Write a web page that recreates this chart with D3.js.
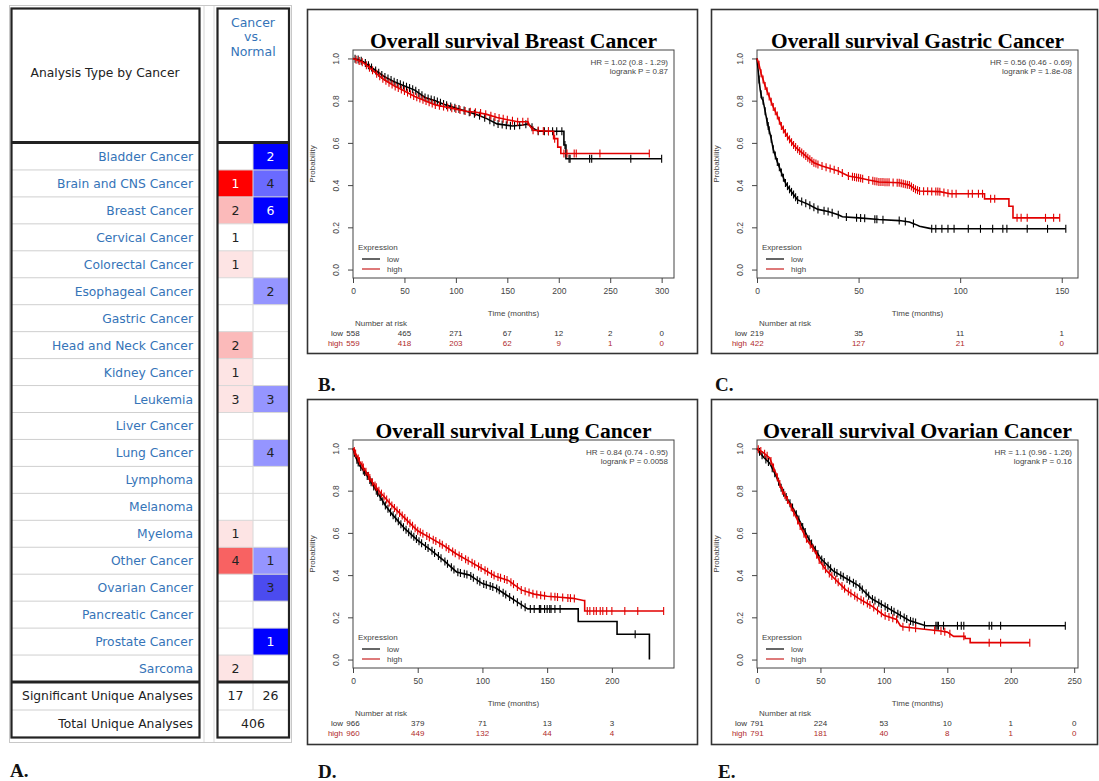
<!DOCTYPE html>
<html><head><meta charset="utf-8">
<script src="https://cdn.jsdelivr.net/npm/d3@7"></script>
<style>body{margin:0;background:#fff}svg{display:block}</style>
</head><body>
<svg id="fig" width="1099" height="781"></svg>
<script>
// ---------------- Panel A data (Oncomine) ----------------
const cancers = ["Bladder Cancer","Brain and CNS Cancer","Breast Cancer","Cervical Cancer","Colorectal Cancer","Esophageal Cancer","Gastric Cancer","Head and Neck Cancer","Kidney Cancer","Leukemia","Liver Cancer","Lung Cancer","Lymphoma","Melanoma","Myeloma","Other Cancer","Ovarian Cancer","Pancreatic Cancer","Prostate Cancer","Sarcoma"];
const overCounts  = [null,1,2,1,1,null,null,2,1,3,null,null,null,null,1,4,null,null,null,2];
const underCounts = [2,4,6,null,null,2,null,null,null,3,null,4,null,null,null,1,3,null,1,null];
const overRank  = [null,1,5,25,10,null,null,5,10,10,null,null,null,null,10,3,null,null,null,10];
const underRank = [1,3,1,null,null,5,null,null,null,5,null,5,null,null,null,5,2,null,1,null];
const significantUnique = [17, 26];
const totalUnique = 406;

// ---------------- KM curves (time in months, survival probability) ----------------
const breastLow = [[0,1],[5,0.995],[10,0.985],[20,0.95],[30,0.915],[40,0.89],[50,0.87],[60,0.85],[70,0.815],[80,0.80],[90,0.78],[100,0.765],[110,0.75],[120,0.735],[130,0.715],[140,0.69],[155,0.68],[165,0.685],[170,0.69],[175,0.67],[180,0.655],[205,0.655],[205,0.59],[207,0.59],[207,0.525],[300,0.525]];
const breastHigh = [[0,1],[5,0.99],[10,0.98],[20,0.94],[30,0.90],[40,0.87],[50,0.846],[60,0.82],[70,0.80],[80,0.78],[90,0.77],[100,0.76],[110,0.75],[120,0.745],[130,0.735],[140,0.72],[150,0.71],[160,0.70],[170,0.70],[172,0.68],[175,0.66],[190,0.655],[195,0.655],[195,0.62],[199,0.62],[199,0.58],[202,0.58],[202,0.55],[288,0.55]];
const breastLowCens = [2,5,8,12,15,18,22,25,28,31,34,37,40,43,46,49,52,55,58,61,64,67,70,73,76,79,82,85,88,91,95,99,103,108,113,118,123,128,133,137,141,145,149,153,157,162,168,174,180,186,190,194,198,203,206,210,211,230,232,270,300];
const breastHighCens = [3,6,9,13,16,19,23,26,29,32,35,38,41,44,47,50,53,56,59,62,65,68,71,74,77,80,84,88,92,96,100,104,109,114,119,124,129,134,138,142,146,150,155,160,165,170,175,180,185,190,196,205,208,215,217,240,288];

const gastricLow = [[0,1],[0.5,0.95],[1,0.9],[1.6,0.85],[2.4,0.81],[3,0.80],[4,0.75],[5,0.70],[6,0.66],[7,0.62],[8,0.57],[10,0.51],[12,0.46],[14,0.41],[16,0.38],[18,0.356],[20,0.33],[25,0.31],[30,0.285],[35,0.275],[40,0.26],[42,0.25],[50,0.245],[60,0.237],[70,0.232],[75,0.225],[78,0.214],[80,0.205],[85,0.195],[86,0.193],[152,0.193]];
const gastricHigh = [[0,1],[1,0.97],[2,0.93],[4,0.87],[6,0.82],[8,0.77],[10,0.73],[12,0.68],[15,0.63],[18,0.59],[20,0.57],[25,0.53],[28,0.506],[32,0.49],[40,0.467],[45,0.443],[50,0.435],[55,0.424],[60,0.415],[70,0.411],[75,0.40],[78,0.38],[80,0.372],[90,0.369],[95,0.359],[112,0.359],[112,0.335],[124,0.335],[124,0.30],[126,0.30],[126,0.245],[149,0.245]];
const gastricLowCens = [1,2,3,4,5,5.5,6,7,8,9,10,11,12,13,14,15,16,17,18,19,20,22,24,26,28,30,33,35,37,40,44,49,51,53,58,59,62,70,73,77,86,88,91,94,97,104,110,116,121,123,133,143,152];
const gastricHighCens = [1,2,3,4,5,6,7,8,9,10,11,12,13,14,15,16,17,18,19,20,21,22,23,24,25,26,27,28,29,30,32,34,36,38,40,42,45,47,48,49,50,51,52,55,57,58,59,60,61,62,63,64,65,67,69,70,71,72,73,74,75,76,77,78,79,80,82,84,86,88,89,90,92,94,96,98,104,106,109,111,115,117,128,130,133,142,146,149];

const lungLow = [[0,1],[2,0.96],[5,0.92],[10,0.88],[15,0.83],[20,0.78],[25,0.73],[30,0.69],[40,0.62],[50,0.565],[60,0.52],[70,0.47],[80,0.415],[90,0.40],[95,0.38],[100,0.36],[110,0.34],[120,0.30],[130,0.26],[135,0.24],[174,0.24],[174,0.18],[204,0.18],[204,0.12],[229,0.12],[229,0]];
const lungHigh = [[0,1],[5,0.94],[10,0.89],[15,0.84],[20,0.80],[30,0.73],[40,0.67],[50,0.61],[60,0.575],[70,0.54],[80,0.50],[90,0.465],[100,0.43],[110,0.395],[120,0.375],[130,0.33],[140,0.31],[150,0.30],[160,0.295],[170,0.29],[178,0.28],[179,0.28],[179,0.23],[240,0.23]];
const lungLowCens = [1,3,4,6,8,9,11,13,14,16,18,19,21,23,25,27,29,31,33,35,37,39,41,43,45,47,49,51,53,56,58,61,63,66,68,71,73,76,78,81,83,86,88,91,93,96,98,101,103,106,108,111,113,116,118,121,124,127,130,133,137,140,144,145,148,150,152,153,156,160,218];
const lungHighCens = [1,2,4,5,7,8,10,12,13,15,17,18,20,22,24,26,28,30,32,34,36,38,40,42,44,46,48,50,52,54,57,59,62,64,67,69,72,74,77,79,82,84,87,89,92,94,97,99,102,104,107,109,112,114,117,119,122,124,127,130,133,136,139,142,145,148,153,156,158,162,166,168,171,181,183,186,188,191,193,196,200,210,220,240];

const ovarianLow = [[0,1],[5,0.96],[10,0.93],[15,0.87],[20,0.80],[25,0.75],[30,0.70],[35,0.64],[40,0.58],[45,0.53],[50,0.48],[55,0.45],[60,0.42],[70,0.385],[80,0.35],[90,0.29],[100,0.255],[110,0.22],[120,0.185],[125,0.175],[133,0.16],[243,0.16]];
const ovarianHigh = [[0,1],[5,0.98],[10,0.955],[15,0.88],[20,0.80],[25,0.745],[30,0.685],[35,0.62],[40,0.56],[45,0.52],[50,0.46],[55,0.42],[60,0.39],[70,0.33],[80,0.29],[90,0.255],[100,0.21],[110,0.19],[113,0.16],[115,0.155],[130,0.145],[145,0.135],[150,0.13],[155,0.11],[164,0.11],[164,0.10],[168,0.10],[168,0.08],[215,0.08]];
const ovarianLowCens = [2,4,7,9,12,14,17,19,21,23,26,28,31,33,36,38,41,43,46,48,51,53,56,58,61,63,66,68,71,73,76,78,81,83,86,88,91,93,96,98,101,103,106,108,111,113,116,118,121,123,125,132,141,142,143,147,158,161,163,183,185,192,243];
const ovarianHighCens = [1,3,6,8,11,13,16,18,20,22,24,27,29,32,34,37,39,42,44,47,49,52,54,57,59,62,64,67,69,72,74,77,79,82,84,87,89,92,95,98,101,104,107,110,115,120,125,140,145,148,152,163,183,192,215];

// number at risk
const breastRiskT = [0,50,100,150,200,250,300], breastRiskLow = [558,465,271,67,12,2,0], breastRiskHigh = [559,418,203,62,9,1,0];
const gastricRiskT = [0,50,100,150], gastricRiskLow = [219,35,11,1], gastricRiskHigh = [422,127,21,0];
const lungRiskT = [0,50,100,150,200], lungRiskLow = [966,379,71,13,3], lungRiskHigh = [960,449,132,44,4];
const ovarianRiskT = [0,50,100,150,200,250], ovarianRiskLow = [791,224,53,10,1,0], ovarianRiskHigh = [791,181,40,8,1,0];

const yTicks = [0,0.2,0.4,0.6,0.8,1.0];

// ---------------- Drawing ----------------
const svg = d3.select("#fig");
svg.append("rect").attr("width",1099).attr("height",781).attr("fill","#fff");

// ===== Panel A =====
const A = svg.append("g");
const sans = "'DejaVu Sans', sans-serif";
const labelBlue = "#3574b8";
const rowY = d3.scaleBand().domain(cancers).range([143, 682]);
const overColor = d3.scaleOrdinal().domain([1,3,5,10,25]).range(["#ff0000","#f86262","#fbbaba","#fde4e4","#ffffff"]);
const underColor = d3.scaleOrdinal().domain([1,2,3,5]).range(["#0000ff","#4b4bef","#6a6aff","#9595ff"]);

A.append("rect").attr("x",9.5).attr("y",5.5).attr("width",282).attr("height",737).attr("fill","none").attr("stroke","#c8c8c8");
A.append("line").attr("x1",204).attr("x2",204).attr("y1",6).attr("y2",742).attr("stroke","#d8d8d8");
A.append("line").attr("x1",214).attr("x2",214).attr("y1",6).attr("y2",742).attr("stroke","#d8d8d8");

cancers.forEach((c,i)=>{
  const y0 = rowY(c), h = rowY.bandwidth();
  if (overRank[i] != null) A.append("rect").attr("x",218).attr("y",y0).attr("width",35).attr("height",h).attr("fill",overColor(overRank[i]));
  if (underRank[i] != null) A.append("rect").attr("x",253).attr("y",y0).attr("width",35).attr("height",h).attr("fill",underColor(underRank[i]));
});
cancers.forEach((c,i)=>{
  if (i===0) return;
  const y = rowY(c);
  A.append("line").attr("x1",12).attr("x2",199).attr("y1",y).attr("y2",y).attr("stroke","#cfcfcf");
  A.append("line").attr("x1",218).attr("x2",288).attr("y1",y).attr("y2",y).attr("stroke","#d8d8d8");
});
A.append("line").attr("x1",253).attr("x2",253).attr("y1",143).attr("y2",710).attr("stroke","#d8d8d8");
cancers.forEach((c,i)=>{
  const yc = rowY(c) + rowY.bandwidth()/2 + 4.5;
  A.append("text").attr("x",193).attr("y",yc).attr("text-anchor","end").attr("font-family",sans).attr("font-size",12.3).attr("fill",labelBlue).text(c);
  if (overCounts[i] != null) A.append("text").attr("x",235.5).attr("y",yc).attr("text-anchor","middle").attr("font-family",sans).attr("font-size",12.5).attr("fill", overRank[i]<=1?"#fff":"#222").text(overCounts[i]);
  if (underCounts[i] != null) A.append("text").attr("x",270.5).attr("y",yc).attr("text-anchor","middle").attr("font-family",sans).attr("font-size",12.5).attr("fill", underRank[i]<=1?"#fff":"#222").text(underCounts[i]);
});
A.append("text").attr("x",105).attr("y",77).attr("text-anchor","middle").attr("font-family",sans).attr("font-size",12.3).attr("fill","#222").text("Analysis Type by Cancer");
["Cancer","vs.","Normal"].forEach((t,k)=>{
  A.append("text").attr("x",253).attr("y",[27,41,56][k]).attr("text-anchor","middle").attr("font-family",sans).attr("font-size",12.5).attr("fill",labelBlue).text(t);
});
A.append("line").attr("x1",12).attr("x2",199).attr("y1",710).attr("y2",710).attr("stroke","#cfcfcf");
A.append("line").attr("x1",218).attr("x2",288).attr("y1",710).attr("y2",710).attr("stroke","#d8d8d8");
A.append("text").attr("x",193).attr("y",700).attr("text-anchor","end").attr("font-family",sans).attr("font-size",12.3).attr("fill","#222").text("Significant Unique Analyses");
A.append("text").attr("x",193).attr("y",728).attr("text-anchor","end").attr("font-family",sans).attr("font-size",12.3).attr("fill","#222").text("Total Unique Analyses");
A.append("text").attr("x",235.5).attr("y",700).attr("text-anchor","middle").attr("font-family",sans).attr("font-size",12.5).attr("fill","#222").text(significantUnique[0]);
A.append("text").attr("x",270.5).attr("y",700).attr("text-anchor","middle").attr("font-family",sans).attr("font-size",12.5).attr("fill","#222").text(significantUnique[1]);
A.append("text").attr("x",253).attr("y",728).attr("text-anchor","middle").attr("font-family",sans).attr("font-size",12.5).attr("fill","#222").text(totalUnique);
[[11.5,199.5],[217.5,289]].forEach(([x0,x1])=>{
  A.append("rect").attr("x",x0).attr("y",8.5).attr("width",x1-x0).attr("height",729).attr("fill","none").attr("stroke","#222").attr("stroke-width",2.2);
  A.append("line").attr("x1",x0).attr("x2",x1).attr("y1",142.5).attr("y2",142.5).attr("stroke","#222").attr("stroke-width",3);
  A.append("line").attr("x1",x0).attr("x2",x1).attr("y1",682).attr("y2",682).attr("stroke","#222").attr("stroke-width",3);
});
A.append("text").attr("x",10).attr("y",777).attr("font-family","'Liberation Serif', serif").attr("font-weight","bold").attr("font-size",19).attr("fill","#111").text("A.");

// ===== KM panels =====
const panels = [
  {label:"B.", lx:318, ly:391, title:"Overall survival Breast Cancer", tlen:287, box:[307,9,390,344], xmax:312, xticks:[0,50,100,150,200,250,300], hr:"HR = 1.02 (0.8 - 1.29)", p:"logrank P = 0.87", low:breastLow, high:breastHigh, lowC:breastLowCens, highC:breastHighCens, rt:breastRiskT, rl:breastRiskLow, rh:breastRiskHigh},
  {label:"C.", lx:715, ly:391, title:"Overall survival Gastric Cancer", tlen:293, box:[711,9,386,344], xmax:158, xticks:[0,50,100,150], hr:"HR = 0.56 (0.46 - 0.69)", p:"logrank P = 1.8e-08", low:gastricLow, high:gastricHigh, lowC:gastricLowCens, highC:gastricHighCens, rt:gastricRiskT, rl:gastricRiskLow, rh:gastricRiskHigh},
  {label:"D.", lx:318, ly:778, title:"Overall survival Lung Cancer", tlen:276, box:[307,399,390,345], xmax:248, xticks:[0,50,100,150,200], hr:"HR = 0.84 (0.74 - 0.95)", p:"logrank P = 0.0058", low:lungLow, high:lungHigh, lowC:lungLowCens, highC:lungHighCens, rt:lungRiskT, rl:lungRiskLow, rh:lungRiskHigh},
  {label:"E.", lx:718, ly:778, title:"Overall survival Ovarian Cancer", tlen:309, box:[711,399,386,345], xmax:253, xticks:[0,50,100,150,200,250], hr:"HR = 1.1 (0.96 - 1.26)", p:"logrank P = 0.16", low:ovarianLow, high:ovarianHigh, lowC:ovarianLowCens, highC:ovarianHighCens, rt:ovarianRiskT, rl:ovarianRiskLow, rh:ovarianRiskHigh}
];

const rfont = "'Liberation Sans', Arial, sans-serif";
const lowCol = "#000", highCol = "#e20000", highText = "#b02a2a", axCol = "#444";

function survAt(pts, t){
  let v = pts[0][1];
  for (let i=0;i<pts.length-1;i++){
    const [t0,s0]=pts[i],[t1,s1]=pts[i+1];
    if (t>=t0 && t<=t1){ v = t1>t0 ? s0+(s1-s0)*(t-t0)/(t1-t0) : s1; }
  }
  if (t>pts[pts.length-1][0]) v = pts[pts.length-1][1];
  return v;
}

panels.forEach(P=>{
  const [bx,by,bw,bh] = P.box;
  const g = svg.append("g");
  g.append("rect").attr("x",bx+0.5).attr("y",by+0.5).attr("width",bw).attr("height",bh).attr("fill","#fff").attr("stroke","#333").attr("stroke-width",1.6);
  const L = bx+46, R = bx+367, T = by+41, B = by+269;
  const x = d3.scaleLinear().domain([0,P.xmax]).range([L,R]);
  const y = d3.scaleLinear().domain([-0.04,1.04]).range([B,T]);
  g.append("rect").attr("x",L).attr("y",T).attr("width",R-L).attr("height",B-T).attr("fill","none").attr("stroke",axCol).attr("stroke-width",1);
  const xa = g.append("g").attr("transform",`translate(0,${B})`).call(d3.axisBottom(x).tickValues(P.xticks).tickSize(5).tickPadding(5).tickFormat(d3.format("d")));
  xa.select(".domain").remove();
  xa.selectAll("line").attr("stroke",axCol);
  xa.selectAll("text").attr("font-family",rfont).attr("font-size",8.5).attr("fill","#444");
  const ya = g.append("g").attr("transform",`translate(${L},0)`).call(d3.axisLeft(y).tickValues(yTicks).tickSize(5).tickFormat(d3.format(".1f")));
  ya.select(".domain").remove();
  ya.selectAll("line").attr("stroke",axCol);
  ya.selectAll("text").attr("font-family",rfont).attr("font-size",8.5).attr("fill","#444")
    .attr("text-anchor","middle").attr("x",0).attr("dy",0)
    .attr("transform","translate(-14,0) rotate(-90)").attr("y",0);
  g.append("text").attr("transform",`translate(${L-38},${(T+B)/2}) rotate(-90)`).attr("text-anchor","middle").attr("font-family",rfont).attr("font-size",8).attr("fill","#444").text("Probability");
  g.append("text").attr("x",(L+R)/2).attr("y",by+307).attr("text-anchor","middle").attr("font-family",rfont).attr("font-size",8).attr("fill","#444").text("Time (months)");
  g.append("text").attr("x",(L+R)/2).attr("y",by+39).attr("text-anchor","middle").attr("font-family","'Liberation Serif', 'Times New Roman', serif").attr("font-weight","bold").attr("font-size",20.5).attr("textLength",P.tlen).attr("lengthAdjust","spacingAndGlyphs").attr("fill","#000").text(P.title);
  g.append("text").attr("x",R-6).attr("y",by+55.5).attr("text-anchor","end").attr("font-family",rfont).attr("font-size",8).attr("fill","#444").text(P.hr);
  g.append("text").attr("x",R-6).attr("y",by+65).attr("text-anchor","end").attr("font-family",rfont).attr("font-size",8).attr("fill","#444").text(P.p);
  const line = d3.line().x(d=>x(d[0])).y(d=>y(d[1]));
  [[P.low,P.lowC,lowCol],[P.high,P.highC,highCol]].forEach(([pts,cens,col])=>{
    g.append("path").attr("d",line(pts)).attr("fill","none").attr("stroke",col).attr("stroke-width",1.6);
    g.selectAll(null).data(cens).enter().append("line")
      .attr("x1",d=>x(d)).attr("x2",d=>x(d))
      .attr("y1",d=>y(survAt(pts,d))-4).attr("y2",d=>y(survAt(pts,d))+4)
      .attr("stroke",col).attr("stroke-width",1.1);
  });
  g.append("text").attr("x",L+5).attr("y",by+240.5).attr("font-family",rfont).attr("font-size",8).attr("fill","#444").text("Expression");
  [["low",lowCol,250],["high","#c82020",260]].forEach(([t,c,dy])=>{
    g.append("line").attr("x1",L+9).attr("x2",L+27).attr("y1",by+dy).attr("y2",by+dy).attr("stroke",c).attr("stroke-width",1.2);
    g.append("text").attr("x",L+34).attr("y",by+dy+3).attr("font-family",rfont).attr("font-size",8).attr("fill","#444").text(t);
  });
  g.append("text").attr("x",L+2).attr("y",by+317).attr("font-family",rfont).attr("font-size",8).attr("fill","#444").text("Number at risk");
  g.append("text").attr("x",L-10).attr("y",by+326.5).attr("text-anchor","end").attr("font-family",rfont).attr("font-size",8).attr("fill","#333").text("low");
  g.append("text").attr("x",L-10).attr("y",by+336.5).attr("text-anchor","end").attr("font-family",rfont).attr("font-size",8).attr("fill",highText).text("high");
  P.rt.forEach((t,k)=>{
    g.append("text").attr("x",x(t)).attr("y",by+326.5).attr("text-anchor","middle").attr("font-family",rfont).attr("font-size",8).attr("fill","#333").text(P.rl[k]);
    g.append("text").attr("x",x(t)).attr("y",by+336.5).attr("text-anchor","middle").attr("font-family",rfont).attr("font-size",8).attr("fill",highText).text(P.rh[k]);
  });
  svg.append("text").attr("x",P.lx).attr("y",P.ly).attr("font-family","'Liberation Serif', serif").attr("font-weight","bold").attr("font-size",19).attr("fill","#111").text(P.label);
});
</script>
</body></html>
